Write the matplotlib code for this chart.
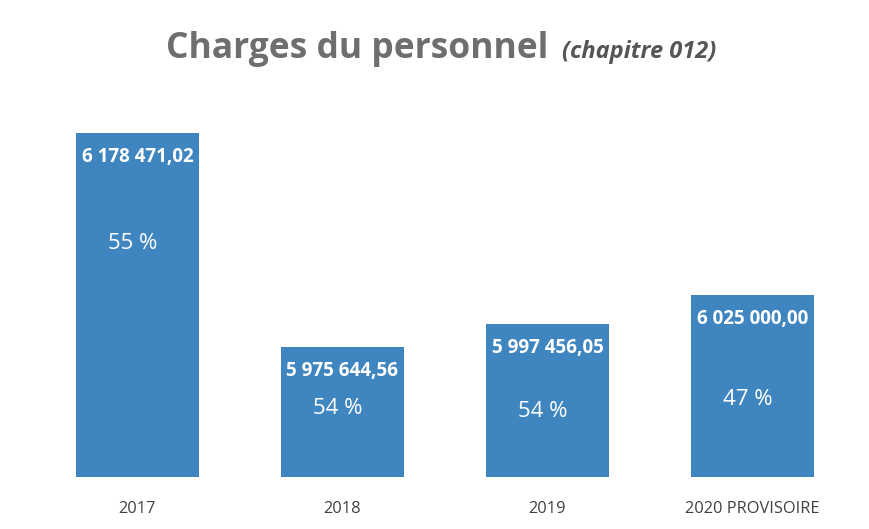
import matplotlib.pyplot as plt

# ==========================================
# DATA
# ==========================================

categories = ["2017", "2018", "2019", "2020 PROVISOIRE"]

montants = [6178471.02, 5975644.56, 5997456.05, 6025000.00]

montant_labels = [
    "6 178 471,02",
    "5 975 644,56",
    "5 997 456,05",
    "6 025 000,00"
]

pourcentages = ["55 %", "54 %", "54 %", "47 %"]

# pixel offset of the percent label below the bar top
pct_offsets = [110, 62, 88, 105]

# ==========================================
# CHART
# ==========================================

plt.rcParams["font.family"] = ["Open Sans", "DejaVu Sans"]

fig = plt.figure(
    figsize=(8.7, 5.29),
    dpi=100,
    facecolor="white"
)

ax = fig.add_axes([35 / 870, 52 / 529, 820 / 870, 344 / 529])

x = range(len(categories))

bars = ax.bar(
    x,
    montants,
    width=0.6,
    color="#3f86c0"
)

ax.set_xlim(-0.5, 3.5)
ax.set_ylim(5852400, 5852400 + 344 * 948)

ax.set_xticks(list(x))
ax.set_xticklabels(categories, fontsize=11.8, color="#404040")
ax.tick_params(axis="x", length=0, pad=17)
ax.set_yticks([])

for side in ["top", "right", "left", "bottom"]:
    ax.spines[side].set_visible(False)

for i, b in enumerate(bars):

    cx = b.get_x() + b.get_width() / 2
    top = b.get_height()

    ax.annotate(
        montant_labels[i],
        (cx, top),
        xytext=(0, -24),
        textcoords="offset pixels",
        ha="center",
        va="center",
        color="white",
        fontsize=13.5,
        fontweight="bold"
    )

    ax.annotate(
        pourcentages[i],
        (cx, top),
        xytext=(-5, -pct_offsets[i]),
        textcoords="offset pixels",
        ha="center",
        va="center",
        color="white",
        fontsize=16
    )

fig.text(
    548 / 870,
    1 - 58 / 529,
    "Charges du personnel",
    ha="right",
    va="baseline",
    fontsize=25.5,
    fontweight="bold",
    color="#6e6e6e"
)

fig.text(
    562 / 870,
    1 - 58 / 529,
    "(chapitre 012)",
    ha="left",
    va="baseline",
    fontsize=17,
    fontweight="bold",
    fontstyle="italic",
    color="#555555"
)

fig.savefig("out.png", dpi=100, facecolor="white")
plt.close()
